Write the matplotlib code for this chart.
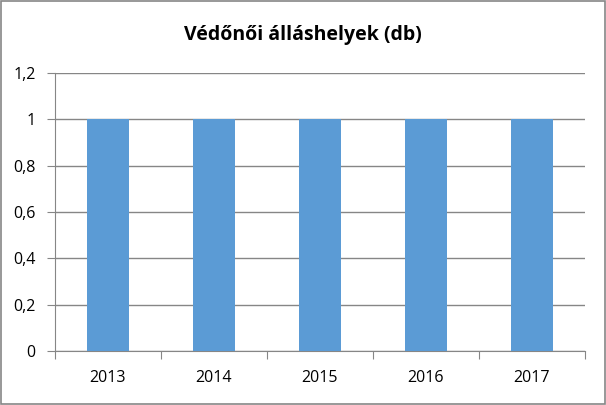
import matplotlib
matplotlib.use("Agg")
import matplotlib.pyplot as plt
from matplotlib.patches import Rectangle

categories = ["2013", "2014", "2015", "2016", "2017"]
values = [1, 1, 1, 1, 1]
yticks = [0, 0.2, 0.4, 0.6, 0.8, 1.0, 1.2]
ytick_labels = ["0", "0,2", "0,4", "0,6", "0,8", "1", "1,2"]
title = "Védőnői álláshelyek (db)"

plt.rcParams['font.family'] = ['Open Sans', 'DejaVu Sans']

fig = plt.figure(figsize=(6.06, 4.05), dpi=100)
ax = fig.add_axes([55/606, 1-351/405, 530/606, 278/405])

x = list(range(len(categories)))
ax.bar(x, values, width=0.4, color="#5B9BD5", zorder=3)
ax.set_xlim(-0.5, len(categories)-0.5)
ax.set_ylim(0, 1.2)
ax.set_yticks(yticks)
ax.set_yticklabels(ytick_labels, fontsize=11.5)
ax.set_xticks([i + 0.5 for i in range(-1, len(categories))], minor=False)
ax.set_xticklabels([])
ax.set_xticks(x, minor=True)
ax.set_xticklabels(categories, minor=True, fontsize=11.5)
ax.tick_params(axis='x', which='minor', length=0, pad=14)
ax.tick_params(axis='x', which='major', length=6, color="#868686", direction='out')
ax.tick_params(axis='y', length=6, color="#868686", direction='out', pad=8)
ax.grid(axis='y', color="#868686", linewidth=1, zorder=0)
for s in ['top', 'right']:
    ax.spines[s].set_visible(False)
ax.spines['left'].set_color("#868686")
ax.spines['bottom'].set_color("#868686")

fig.text(0.5, 1-35/405, title, ha='center', va='center', fontsize=14, fontweight='bold')
fig.patches.append(Rectangle((0.001, 0.002), 0.997, 0.996, transform=fig.transFigure,
                             fill=False, edgecolor="#868686", linewidth=1.2))
fig.savefig("out.png", dpi=100)
